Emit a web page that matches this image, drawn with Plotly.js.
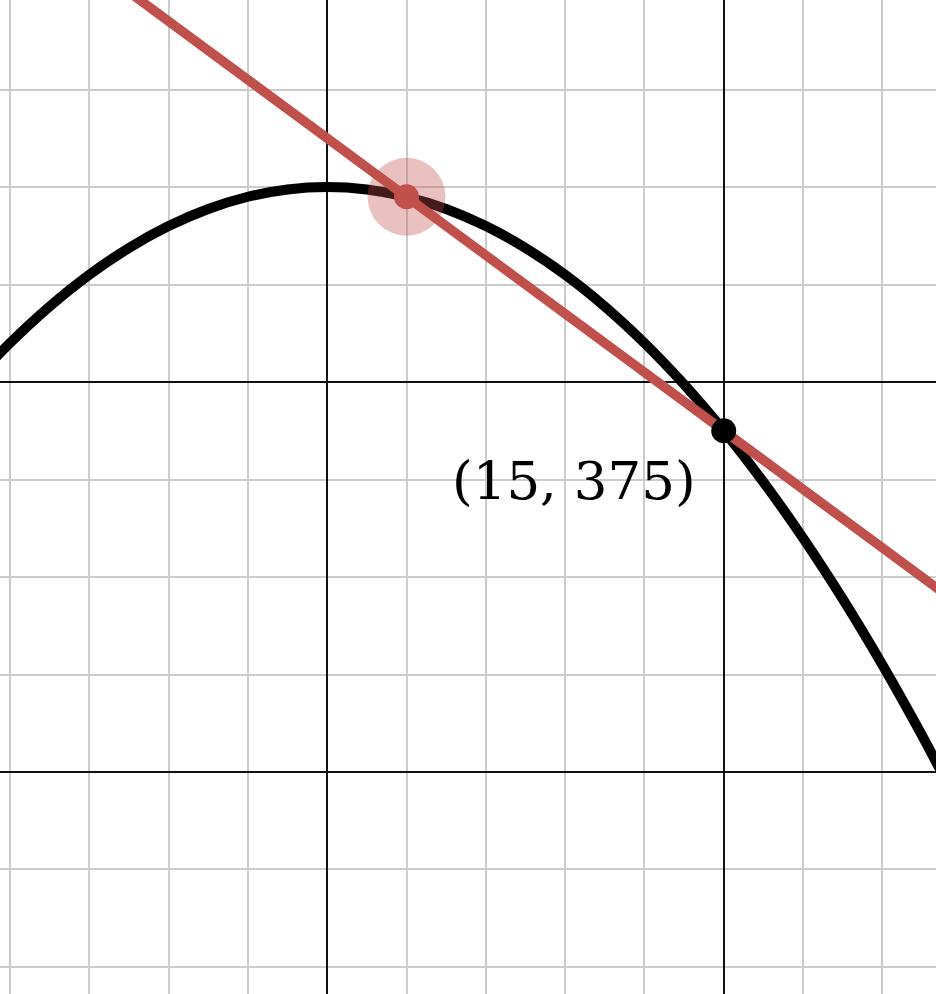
<!DOCTYPE html>
<html>
<head>
<meta charset="utf-8">
<script src="https://cdn.plot.ly/plotly-3.0.1.min.js"></script>
<style>html,body{margin:0;padding:0;background:#fff;}#chart{width:936px;height:994px;}</style>
</head>
<body>
<div id="chart"></div>
<script>
// Curve values (parabola through vertex (10, 500))
const curveX = [5.5, 6, 6.5, 7, 7.5, 8, 8.5, 9, 9.5, 10, 10.5, 11, 11.5, 12, 12.5, 13, 13.5, 14, 14.5, 15, 15.5, 16, 16.5, 17, 17.5, 18];
const curveY = [398.75, 420, 438.75, 455, 468.75, 480, 488.75, 495, 498.75, 500, 498.75, 495, 488.75, 480, 468.75, 455, 438.75, 420, 398.75, 375, 348.75, 320, 288.75, 255, 218.75, 180];
// Secant line endpoints
const lineX = [5, 18];
const lineY = [675, 285];
// Points
const movingPointX = [11];
const movingPointY = [495];
const fixedPointX = [15];
const fixedPointY = [375];
const labelText = "(15, 375)";

const red = '#c0504b';
const traces = [
  {x: curveX, y: curveY, mode: 'lines', line: {color: '#000', width: 10, shape: 'spline'}, hoverinfo: 'skip'},
  {x: lineX, y: lineY, mode: 'lines', line: {color: red, width: 9.5}, hoverinfo: 'skip'},
  {x: movingPointX, y: movingPointY, mode: 'markers', marker: {color: 'rgba(192,80,75,0.35)', size: 78}, hoverinfo: 'skip'},
  {x: movingPointX, y: movingPointY, mode: 'markers', marker: {color: red, size: 25}, hoverinfo: 'skip'},
  {x: fixedPointX, y: fixedPointY, mode: 'markers', marker: {color: '#000', size: 25}, hoverinfo: 'skip'}
];

const layout = {
  width: 936, height: 994,
  margin: {l: 0, r: 0, t: 0, b: 0, pad: 0},
  paper_bgcolor: '#fff', plot_bgcolor: '#fff',
  showlegend: false,
  xaxis: {
    range: [5.874, 17.677], tick0: 0, dtick: 5, showticklabels: false, ticks: '',
    showgrid: true, gridcolor: '#111', gridwidth: 1.6, zeroline: false, showline: false,
    minor: {tick0: 0, dtick: 1, showgrid: true, gridcolor: '#cccccc', gridwidth: 2, ticks: ''}
  },
  yaxis: {
    range: [86.15, 595.9], tick0: 0, dtick: 200, showticklabels: false, ticks: '',
    showgrid: true, gridcolor: '#111', gridwidth: 1.6, zeroline: false, showline: false,
    minor: {tick0: 0, dtick: 50, showgrid: true, gridcolor: '#cccccc', gridwidth: 2, ticks: ''}
  },
  annotations: [{
    x: fixedPointX[0], y: fixedPointY[0], xref: 'x', yref: 'y',
    text: labelText, showarrow: false,
    xanchor: 'center', yanchor: 'middle', xshift: -150, yshift: -50,
    font: {family: 'DejaVu Serif', size: 53, color: '#000'}
  }]
};

Plotly.newPlot('chart', traces, layout, {displayModeBar: false, staticPlot: true});
</script>
</body>
</html>
